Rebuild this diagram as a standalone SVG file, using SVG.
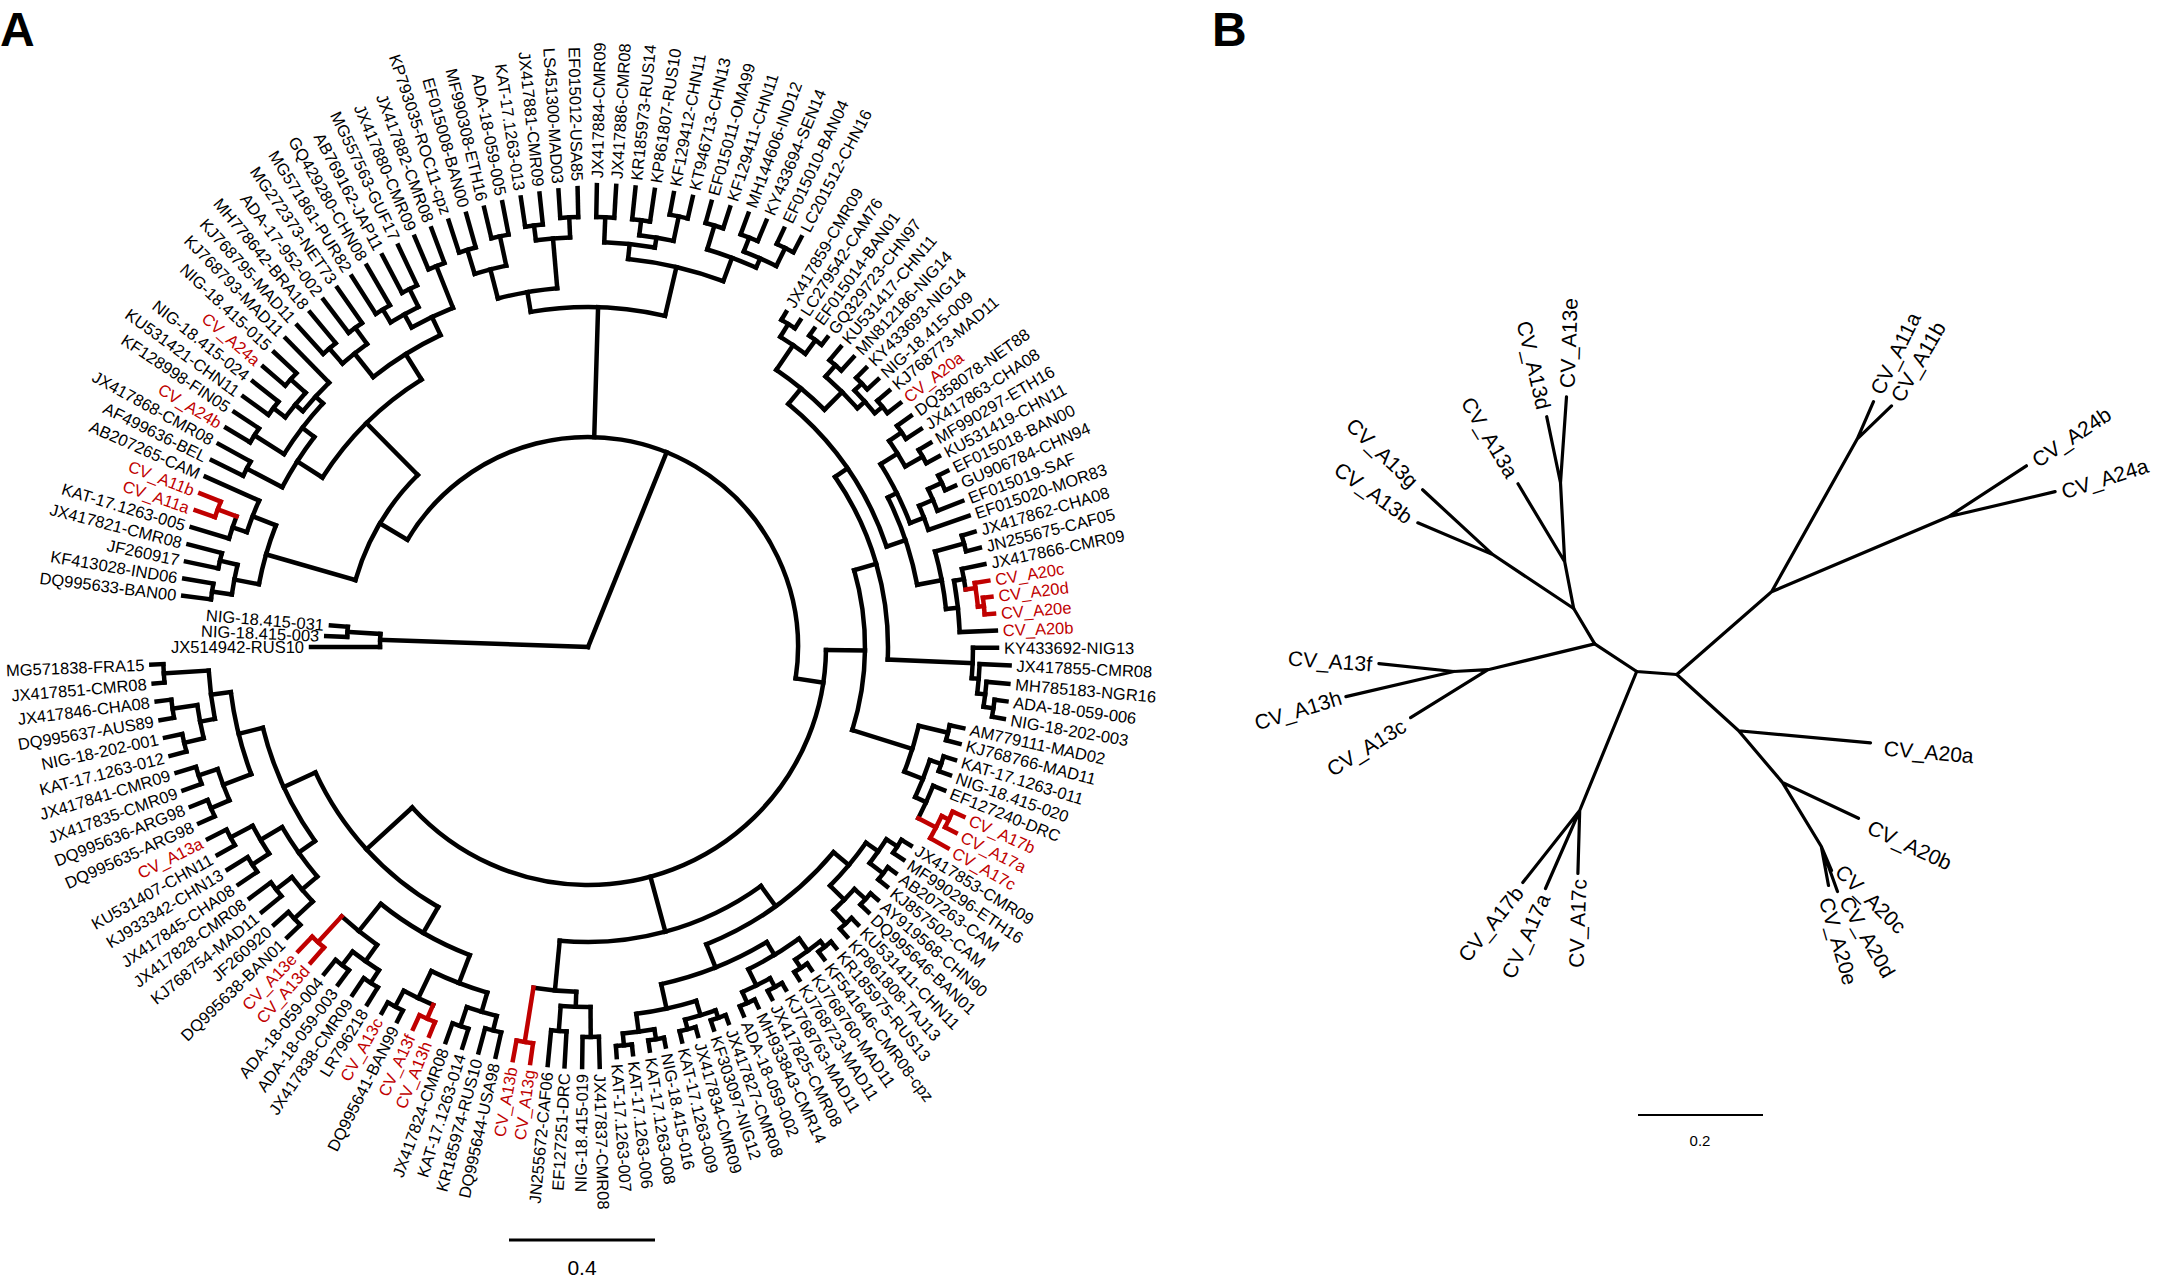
<svg xmlns="http://www.w3.org/2000/svg" width="2161" height="1279" viewBox="0 0 2161 1279">
<style>
.b{fill:none;stroke:#000;stroke-width:4.5;stroke-linecap:square}
.r{stroke:#c00000}
.u{fill:none;stroke:#000;stroke-width:3.2;stroke-linecap:round}
text{font-family:"Liberation Sans",Arial,sans-serif;font-size:16.5px;fill:#000;dominant-baseline:central}
.e{text-anchor:end}
.rt{fill:#c00000}
.bl{font-size:21px}
.pl{font-size:48px;font-weight:bold;dominant-baseline:auto}
</style>
<rect width="2161" height="1279" fill="#fff"/>
<text class="pl" x="0" y="46">A</text>
<text class="pl" x="1212" y="46">B</text>
<g id="treeA-connectors" transform="translate(588,647)">
<path class="b" transform="rotate(182)" d="M0 0H208"/>
<circle class="b" r="208" pathLength="360" stroke-dasharray="3.6 720" transform="rotate(180)"/>
<path class="b" transform="rotate(180)" d="M208 0H277"/>
<path class="b" transform="rotate(183.6)" d="M208 0H241"/>
<circle class="b" r="241" pathLength="360" stroke-dasharray="2.4 720" transform="rotate(182.4)"/>
<path class="b" transform="rotate(182.4)" d="M241 0H262"/>
<path class="b" transform="rotate(184.8)" d="M241 0H258"/>
<path class="b" transform="rotate(292)" d="M0 0H210"/>
<circle class="b" r="210" pathLength="360" stroke-dasharray="157.9 720" transform="rotate(210.7)"/>
<!-- L -->
<path class="b" transform="rotate(210.7)" d="M210 0H242"/>
<circle class="b" r="242" pathLength="360" stroke-dasharray="29.25 720" transform="rotate(196.05)"/>
<path class="b" transform="rotate(196.05)" d="M242 0H335"/>
<circle class="b" r="335" pathLength="360" stroke-dasharray="10.5 720" transform="rotate(190.8)"/>
<path class="b" transform="rotate(190.8)" d="M335 0H360"/>
<circle class="b" r="360" pathLength="360" stroke-dasharray="4.8 720" transform="rotate(188.4)"/>
<path class="b" transform="rotate(188.4)" d="M360 0H380"/>
<circle class="b" r="380" pathLength="360" stroke-dasharray="2.4 720" transform="rotate(187.2)"/>
<path class="b" transform="rotate(187.2)" d="M380 0H408"/>
<path class="b" transform="rotate(189.6)" d="M380 0H409.5"/>
<path class="b" transform="rotate(193.2)" d="M360 0H378"/>
<circle class="b" r="378" pathLength="360" stroke-dasharray="2.4 720" transform="rotate(192)"/>
<path class="b" transform="rotate(192)" d="M378 0H411"/>
<path class="b" transform="rotate(194.4)" d="M378 0H412.5"/>
<path class="b" transform="rotate(201.3)" d="M335 0H360"/>
<circle class="b" r="360" pathLength="360" stroke-dasharray="5.4 720" transform="rotate(198.6)"/>
<path class="b" transform="rotate(198.6)" d="M360 0H375"/>
<circle class="b" r="375" pathLength="360" stroke-dasharray="3.6 720" transform="rotate(196.8)"/>
<path class="b" transform="rotate(196.8)" d="M375 0H414"/>
<path class="b r" transform="rotate(200.4)" d="M375 0H395"/>
<circle class="b r" r="395" pathLength="360" stroke-dasharray="2.4 720" transform="rotate(199.2)"/>
<path class="b r" transform="rotate(199.2)" d="M395 0H415.5"/>
<path class="b r" transform="rotate(201.6)" d="M395 0H417"/>
<path class="b" transform="rotate(204)" d="M360 0H418.5"/>
<path class="b" transform="rotate(225.3)" d="M242 0H315"/>
<circle class="b" r="315" pathLength="360" stroke-dasharray="25.55 720" transform="rotate(212.55)"/>
<path class="b" transform="rotate(212.55)" d="M315 0H345"/>
<circle class="b" r="345" pathLength="360" stroke-dasharray="9.9 720" transform="rotate(207.6)"/>
<path class="b" transform="rotate(207.6)" d="M345 0H385"/>
<circle class="b" r="385" pathLength="360" stroke-dasharray="2.4 720" transform="rotate(206.4)"/>
<path class="b" transform="rotate(206.4)" d="M385 0H420"/>
<path class="b" transform="rotate(208.8)" d="M385 0H421.5"/>
<path class="b" transform="rotate(217.5)" d="M345 0H360"/>
<circle class="b" r="360" pathLength="360" stroke-dasharray="10.2 720" transform="rotate(212.4)"/>
<path class="b" transform="rotate(212.4)" d="M360 0H395"/>
<circle class="b" r="395" pathLength="360" stroke-dasharray="2.4 720" transform="rotate(211.2)"/>
<path class="b" transform="rotate(211.2)" d="M395 0H423"/>
<path class="b" transform="rotate(213.6)" d="M395 0H424.5"/>
<path class="b" transform="rotate(222.6)" d="M360 0H370"/>
<circle class="b" r="370" pathLength="360" stroke-dasharray="6 720" transform="rotate(219.6)"/>
<path class="b" transform="rotate(219.6)" d="M370 0H380"/>
<circle class="b" r="380" pathLength="360" stroke-dasharray="4.8 720" transform="rotate(217.2)"/>
<path class="b" transform="rotate(217.2)" d="M380 0H395"/>
<circle class="b" r="395" pathLength="360" stroke-dasharray="2.4 720" transform="rotate(216)"/>
<path class="b" transform="rotate(216)" d="M395 0H426"/>
<path class="b" transform="rotate(218.4)" d="M395 0H427.5"/>
<path class="b" transform="rotate(222)" d="M380 0H400"/>
<circle class="b" r="400" pathLength="360" stroke-dasharray="2.4 720" transform="rotate(220.8)"/>
<path class="b" transform="rotate(220.8)" d="M400 0H429"/>
<path class="b" transform="rotate(223.2)" d="M400 0H430.5"/>
<path class="b" transform="rotate(225.6)" d="M370 0H432"/>
<path class="b" transform="rotate(238.1)" d="M315 0H345"/>
<circle class="b" r="345" pathLength="360" stroke-dasharray="13.2 720" transform="rotate(231.5)"/>
<path class="b" transform="rotate(231.5)" d="M345 0H375"/>
<circle class="b" r="375" pathLength="360" stroke-dasharray="4.8 720" transform="rotate(229.1)"/>
<path class="b" transform="rotate(229.1)" d="M375 0H395"/>
<circle class="b" r="395" pathLength="360" stroke-dasharray="2.4 720" transform="rotate(227.9)"/>
<path class="b" transform="rotate(227.9)" d="M395 0H433.5"/>
<path class="b" transform="rotate(230.3)" d="M395 0H435"/>
<path class="b" transform="rotate(233.9)" d="M375 0H395"/>
<circle class="b" r="395" pathLength="360" stroke-dasharray="2.4 720" transform="rotate(232.7)"/>
<path class="b" transform="rotate(232.7)" d="M395 0H436.5"/>
<path class="b" transform="rotate(235.1)" d="M395 0H438"/>
<path class="b" transform="rotate(244.7)" d="M345 0H365"/>
<circle class="b" r="365" pathLength="360" stroke-dasharray="7.2 720" transform="rotate(241.1)"/>
<path class="b" transform="rotate(241.1)" d="M365 0H380"/>
<circle class="b" r="380" pathLength="360" stroke-dasharray="4.8 720" transform="rotate(238.7)"/>
<path class="b" transform="rotate(238.7)" d="M380 0H395"/>
<circle class="b" r="395" pathLength="360" stroke-dasharray="2.4 720" transform="rotate(237.5)"/>
<path class="b" transform="rotate(237.5)" d="M395 0H439.5"/>
<path class="b" transform="rotate(239.9)" d="M395 0H441"/>
<path class="b" transform="rotate(243.5)" d="M380 0H400"/>
<circle class="b" r="400" pathLength="360" stroke-dasharray="2.4 720" transform="rotate(242.3)"/>
<path class="b" transform="rotate(242.3)" d="M400 0H442.5"/>
<path class="b" transform="rotate(244.7)" d="M400 0H444"/>
<path class="b" transform="rotate(248.3)" d="M365 0H410"/>
<circle class="b" r="410" pathLength="360" stroke-dasharray="2.4 720" transform="rotate(247.1)"/>
<path class="b" transform="rotate(247.1)" d="M410 0H445.5"/>
<path class="b" transform="rotate(249.5)" d="M410 0H447"/>
<!-- T -->
<path class="b" transform="rotate(271.7)" d="M210 0H340"/>
<circle class="b" r="340" pathLength="360" stroke-dasharray="22.8 720" transform="rotate(260.3)"/>
<path class="b" transform="rotate(260.3)" d="M340 0H360"/>
<circle class="b" r="360" pathLength="360" stroke-dasharray="9.6 720" transform="rotate(255.5)"/>
<path class="b" transform="rotate(255.5)" d="M360 0H390"/>
<circle class="b" r="390" pathLength="360" stroke-dasharray="4.8 720" transform="rotate(253.1)"/>
<path class="b" transform="rotate(253.1)" d="M390 0H415"/>
<circle class="b" r="415" pathLength="360" stroke-dasharray="2.4 720" transform="rotate(251.9)"/>
<path class="b" transform="rotate(251.9)" d="M415 0H448.5"/>
<path class="b" transform="rotate(254.3)" d="M415 0H450"/>
<path class="b" transform="rotate(257.9)" d="M390 0H420"/>
<circle class="b" r="420" pathLength="360" stroke-dasharray="2.4 720" transform="rotate(256.7)"/>
<path class="b" transform="rotate(256.7)" d="M420 0H451.5"/>
<path class="b" transform="rotate(259.1)" d="M420 0H453"/>
<path class="b" transform="rotate(265.1)" d="M360 0H410"/>
<circle class="b" r="410" pathLength="360" stroke-dasharray="4.8 720" transform="rotate(262.7)"/>
<path class="b" transform="rotate(262.7)" d="M410 0H425"/>
<circle class="b" r="425" pathLength="360" stroke-dasharray="2.4 720" transform="rotate(261.5)"/>
<path class="b" transform="rotate(261.5)" d="M425 0H454.5"/>
<path class="b" transform="rotate(263.9)" d="M425 0H456"/>
<path class="b" transform="rotate(267.5)" d="M410 0H430"/>
<circle class="b" r="430" pathLength="360" stroke-dasharray="2.4 720" transform="rotate(266.3)"/>
<path class="b" transform="rotate(266.3)" d="M430 0H457.5"/>
<path class="b" transform="rotate(268.7)" d="M430 0H459"/>
<path class="b" transform="rotate(283.1)" d="M340 0H390"/>
<circle class="b" r="390" pathLength="360" stroke-dasharray="14.4 720" transform="rotate(275.9)"/>
<path class="b" transform="rotate(275.9)" d="M390 0H405"/>
<circle class="b" r="405" pathLength="360" stroke-dasharray="7.2 720" transform="rotate(272.3)"/>
<path class="b" transform="rotate(272.3)" d="M405 0H430"/>
<circle class="b" r="430" pathLength="360" stroke-dasharray="2.4 720" transform="rotate(271.1)"/>
<path class="b" transform="rotate(271.1)" d="M430 0H462"/>
<path class="b" transform="rotate(273.5)" d="M430 0H462"/>
<path class="b" transform="rotate(279.5)" d="M405 0H415"/>
<circle class="b" r="415" pathLength="360" stroke-dasharray="4.8 720" transform="rotate(277.1)"/>
<path class="b" transform="rotate(277.1)" d="M415 0H430"/>
<circle class="b" r="430" pathLength="360" stroke-dasharray="2.4 720" transform="rotate(275.9)"/>
<path class="b" transform="rotate(275.9)" d="M430 0H462"/>
<path class="b" transform="rotate(278.3)" d="M430 0H462"/>
<path class="b" transform="rotate(281.9)" d="M415 0H440"/>
<circle class="b" r="440" pathLength="360" stroke-dasharray="2.4 720" transform="rotate(280.7)"/>
<path class="b" transform="rotate(280.7)" d="M440 0H462"/>
<path class="b" transform="rotate(283.1)" d="M440 0H462"/>
<path class="b" transform="rotate(290.3)" d="M390 0H415"/>
<circle class="b" r="415" pathLength="360" stroke-dasharray="7.2 720" transform="rotate(286.7)"/>
<path class="b" transform="rotate(286.7)" d="M415 0H440"/>
<circle class="b" r="440" pathLength="360" stroke-dasharray="2.4 720" transform="rotate(285.5)"/>
<path class="b" transform="rotate(285.5)" d="M440 0H462"/>
<path class="b" transform="rotate(287.9)" d="M440 0H462"/>
<path class="b" transform="rotate(293.9)" d="M415 0H425"/>
<circle class="b" r="425" pathLength="360" stroke-dasharray="4.8 720" transform="rotate(291.5)"/>
<path class="b" transform="rotate(291.5)" d="M425 0H440"/>
<circle class="b" r="440" pathLength="360" stroke-dasharray="2.4 720" transform="rotate(290.3)"/>
<path class="b" transform="rotate(290.3)" d="M440 0H462"/>
<path class="b" transform="rotate(292.7)" d="M440 0H462"/>
<path class="b" transform="rotate(296.3)" d="M425 0H445"/>
<circle class="b" r="445" pathLength="360" stroke-dasharray="2.4 720" transform="rotate(295.1)"/>
<path class="b" transform="rotate(295.1)" d="M445 0H462"/>
<path class="b" transform="rotate(297.5)" d="M445 0H462"/>
<!-- S -->
<path class="b" transform="rotate(368.6)" d="M210 0H238"/>
<circle class="b" r="238" pathLength="360" stroke-dasharray="136.9 720" transform="rotate(360.7)"/>
<path class="b" transform="rotate(360.7)" d="M238 0H277"/>
<circle class="b" r="277" pathLength="360" stroke-dasharray="33.55 720" transform="rotate(343.9)"/>
<path class="b" transform="rotate(343.9)" d="M277 0H300"/>
<circle class="b" r="300" pathLength="360" stroke-dasharray="36.95 720" transform="rotate(325.45)"/>
<path class="b" transform="rotate(325.45)" d="M300 0H315"/>
<circle class="b" r="315" pathLength="360" stroke-dasharray="31.9 720" transform="rotate(309.5)"/>
<path class="b" transform="rotate(309.5)" d="M315 0H335"/>
<circle class="b" r="335" pathLength="360" stroke-dasharray="10.7 720" transform="rotate(304.2)"/>
<path class="b" transform="rotate(304.2)" d="M335 0H365"/>
<circle class="b" r="365" pathLength="360" stroke-dasharray="4.75 720" transform="rotate(301.8)"/>
<path class="b" transform="rotate(301.8)" d="M365 0H380"/>
<circle class="b" r="380" pathLength="360" stroke-dasharray="2.4 720" transform="rotate(300.6)"/>
<path class="b" transform="rotate(300.6)" d="M380 0H389"/>
<path class="b" transform="rotate(303)" d="M380 0H389.8"/>
<path class="b" transform="rotate(306.55)" d="M365 0H382"/>
<circle class="b" r="382" pathLength="360" stroke-dasharray="2.3 720" transform="rotate(305.4)"/>
<path class="b" transform="rotate(305.4)" d="M382 0H390.6"/>
<path class="b" transform="rotate(307.7)" d="M382 0H391.4"/>
<path class="b" transform="rotate(314.9)" d="M335 0H360"/>
<circle class="b" r="360" pathLength="360" stroke-dasharray="7.15 720" transform="rotate(311.3)"/>
<path class="b" transform="rotate(311.3)" d="M360 0H375"/>
<circle class="b" r="375" pathLength="360" stroke-dasharray="2.4 720" transform="rotate(310.1)"/>
<path class="b" transform="rotate(310.1)" d="M375 0H392.2"/>
<path class="b" transform="rotate(312.5)" d="M375 0H393"/>
<path class="b" transform="rotate(318.45)" d="M360 0H370"/>
<circle class="b" r="370" pathLength="360" stroke-dasharray="4.7 720" transform="rotate(316.1)"/>
<path class="b" transform="rotate(316.1)" d="M370 0H380"/>
<circle class="b" r="380" pathLength="360" stroke-dasharray="2.4 720" transform="rotate(314.9)"/>
<path class="b" transform="rotate(314.9)" d="M380 0H393.8"/>
<path class="b" transform="rotate(317.3)" d="M380 0H394.6"/>
<path class="b" transform="rotate(320.8)" d="M370 0H380"/>
<circle class="b" r="380" pathLength="360" stroke-dasharray="2.4 720" transform="rotate(319.6)"/>
<path class="b" transform="rotate(319.6)" d="M380 0H395.4"/>
<path class="b" transform="rotate(322)" d="M380 0H396.2"/>
<path class="b" transform="rotate(341.4)" d="M315 0H335"/>
<circle class="b" r="335" pathLength="360" stroke-dasharray="15.8 720" transform="rotate(333.5)"/>
<path class="b" transform="rotate(333.5)" d="M335 0H345"/>
<circle class="b" r="345" pathLength="360" stroke-dasharray="10.95 720" transform="rotate(328)"/>
<path class="b" transform="rotate(328)" d="M345 0H365"/>
<circle class="b" r="365" pathLength="360" stroke-dasharray="4.75 720" transform="rotate(325.6)"/>
<path class="b" transform="rotate(325.6)" d="M365 0H380"/>
<circle class="b" r="380" pathLength="360" stroke-dasharray="2.4 720" transform="rotate(324.4)"/>
<path class="b" transform="rotate(324.4)" d="M380 0H397"/>
<path class="b" transform="rotate(326.8)" d="M380 0H397.8"/>
<path class="b" transform="rotate(330.35)" d="M365 0H385"/>
<circle class="b" r="385" pathLength="360" stroke-dasharray="2.3 720" transform="rotate(329.2)"/>
<path class="b" transform="rotate(329.2)" d="M385 0H398.6"/>
<path class="b" transform="rotate(331.5)" d="M385 0H399.4"/>
<path class="b" transform="rotate(338.95)" d="M345 0H360"/>
<circle class="b" r="360" pathLength="360" stroke-dasharray="4.1 720" transform="rotate(336.9)"/>
<path class="b" transform="rotate(336.9)" d="M360 0H375"/>
<circle class="b" r="375" pathLength="360" stroke-dasharray="3.6 720" transform="rotate(335.1)"/>
<path class="b" transform="rotate(335.1)" d="M375 0H390"/>
<circle class="b" r="390" pathLength="360" stroke-dasharray="2.4 720" transform="rotate(333.9)"/>
<path class="b" transform="rotate(333.9)" d="M390 0H400.2"/>
<path class="b" transform="rotate(336.3)" d="M390 0H401"/>
<path class="b" transform="rotate(338.7)" d="M375 0H401.8"/>
<path class="b" transform="rotate(341)" d="M360 0H402.6"/>
<path class="b" transform="rotate(349.3)" d="M335 0H360"/>
<circle class="b" r="360" pathLength="360" stroke-dasharray="9.35 720" transform="rotate(344.6)"/>
<path class="b" transform="rotate(344.6)" d="M360 0H390"/>
<circle class="b" r="390" pathLength="360" stroke-dasharray="2.4 720" transform="rotate(343.4)"/>
<path class="b" transform="rotate(343.4)" d="M390 0H403.4"/>
<path class="b" transform="rotate(345.8)" d="M390 0H404.2"/>
<path class="b" transform="rotate(353.95)" d="M360 0H372"/>
<circle class="b" r="372" pathLength="360" stroke-dasharray="7.95 720" transform="rotate(349.75)"/>
<path class="b" transform="rotate(349.75)" d="M372 0H382"/>
<circle class="b" r="382" pathLength="360" stroke-dasharray="3.15 720" transform="rotate(348.2)"/>
<path class="b" transform="rotate(348.2)" d="M382 0H405"/>
<path class="b r" transform="rotate(351.35)" d="M382 0H392"/>
<circle class="b r" r="392" pathLength="360" stroke-dasharray="3.5 720" transform="rotate(350.6)"/>
<path class="b r" transform="rotate(350.6)" d="M392 0H405.8"/>
<path class="b r" transform="rotate(354.1)" d="M392 0H398"/>
<circle class="b r" r="398" pathLength="360" stroke-dasharray="2.4 720" transform="rotate(352.9)"/>
<path class="b r" transform="rotate(352.9)" d="M398 0H406.6"/>
<path class="b r" transform="rotate(355.3)" d="M398 0H407.4"/>
<path class="b" transform="rotate(357.7)" d="M372 0H408.2"/>
<path class="b" transform="rotate(362.4)" d="M300 0H385"/>
<circle class="b" r="385" pathLength="360" stroke-dasharray="4.55 720" transform="rotate(360.1)"/>
<path class="b" transform="rotate(360.1)" d="M385 0H409"/>
<path class="b" transform="rotate(364.65)" d="M385 0H392"/>
<circle class="b" r="392" pathLength="360" stroke-dasharray="4.3 720" transform="rotate(362.5)"/>
<path class="b" transform="rotate(362.5)" d="M392 0H422"/>
<path class="b" transform="rotate(366.8)" d="M392 0H400"/>
<circle class="b" r="400" pathLength="360" stroke-dasharray="3.6 720" transform="rotate(365)"/>
<path class="b" transform="rotate(365)" d="M400 0H422"/>
<path class="b" transform="rotate(368.6)" d="M400 0H410"/>
<circle class="b" r="410" pathLength="360" stroke-dasharray="2.4 720" transform="rotate(367.4)"/>
<path class="b" transform="rotate(367.4)" d="M410 0H422"/>
<path class="b" transform="rotate(369.8)" d="M410 0H422"/>
<path class="b" transform="rotate(377.45)" d="M277 0H340"/>
<circle class="b" r="340" pathLength="360" stroke-dasharray="8.1 720" transform="rotate(373.4)"/>
<path class="b" transform="rotate(373.4)" d="M340 0H370"/>
<circle class="b" r="370" pathLength="360" stroke-dasharray="2.4 720" transform="rotate(372.2)"/>
<path class="b" transform="rotate(372.2)" d="M370 0H384"/>
<path class="b" transform="rotate(374.6)" d="M370 0H384"/>
<path class="b" transform="rotate(381.5)" d="M340 0H360"/>
<circle class="b" r="360" pathLength="360" stroke-dasharray="6.35 720" transform="rotate(378.3)"/>
<path class="b" transform="rotate(378.3)" d="M360 0H372"/>
<circle class="b" r="372" pathLength="360" stroke-dasharray="2.4 720" transform="rotate(377.1)"/>
<path class="b" transform="rotate(377.1)" d="M372 0H384"/>
<path class="b" transform="rotate(379.5)" d="M372 0H384"/>
<path class="b" transform="rotate(384.65)" d="M360 0H372"/>
<circle class="b" r="372" pathLength="360" stroke-dasharray="5.5 720" transform="rotate(381.9)"/>
<path class="b" transform="rotate(381.9)" d="M372 0H384"/>
<path class="b r" transform="rotate(387.4)" d="M372 0H392"/>
<circle class="b r" r="392" pathLength="360" stroke-dasharray="3.65 720" transform="rotate(385.55)"/>
<path class="b r" transform="rotate(385.55)" d="M392 0H400"/>
<circle class="b r" r="400" pathLength="360" stroke-dasharray="2.5 720" transform="rotate(384.3)"/>
<path class="b r" transform="rotate(384.3)" d="M400 0H412"/>
<path class="b r" transform="rotate(386.8)" d="M400 0H412"/>
<path class="b r" transform="rotate(389.2)" d="M392 0H412"/>
<!-- BR -->
<path class="b" transform="rotate(434.8)" d="M238 0H295"/>
<circle class="b" r="295" pathLength="360" stroke-dasharray="41.4 720" transform="rotate(414.1)"/>
<path class="b" transform="rotate(414.1)" d="M295 0H320"/>
<circle class="b" r="320" pathLength="360" stroke-dasharray="28.4 720" transform="rotate(399.9)"/>
<path class="b" transform="rotate(399.9)" d="M320 0H340"/>
<circle class="b" r="340" pathLength="360" stroke-dasharray="9.45 720" transform="rotate(395.15)"/>
<path class="b" transform="rotate(395.15)" d="M340 0H355"/>
<circle class="b" r="355" pathLength="360" stroke-dasharray="4.7 720" transform="rotate(392.8)"/>
<path class="b" transform="rotate(392.8)" d="M355 0H368"/>
<circle class="b" r="368" pathLength="360" stroke-dasharray="2.4 720" transform="rotate(391.6)"/>
<path class="b" transform="rotate(391.6)" d="M368 0H379"/>
<path class="b" transform="rotate(394)" d="M368 0H380.4"/>
<path class="b" transform="rotate(397.5)" d="M355 0H372"/>
<circle class="b" r="372" pathLength="360" stroke-dasharray="2.4 720" transform="rotate(396.3)"/>
<path class="b" transform="rotate(396.3)" d="M372 0H381.8"/>
<path class="b" transform="rotate(398.7)" d="M372 0H383.2"/>
<path class="b" transform="rotate(404.6)" d="M340 0H360"/>
<circle class="b" r="360" pathLength="360" stroke-dasharray="4.75 720" transform="rotate(402.25)"/>
<path class="b" transform="rotate(402.25)" d="M360 0H375"/>
<circle class="b" r="375" pathLength="360" stroke-dasharray="2.3 720" transform="rotate(401.1)"/>
<path class="b" transform="rotate(401.1)" d="M375 0H384.6"/>
<path class="b" transform="rotate(403.4)" d="M375 0H386"/>
<path class="b" transform="rotate(407)" d="M360 0H378"/>
<circle class="b" r="378" pathLength="360" stroke-dasharray="2.4 720" transform="rotate(405.8)"/>
<path class="b" transform="rotate(405.8)" d="M378 0H387.4"/>
<path class="b" transform="rotate(408.2)" d="M378 0H388.8"/>
<path class="b" transform="rotate(428.3)" d="M320 0H345"/>
<circle class="b" r="345" pathLength="360" stroke-dasharray="18.95 720" transform="rotate(418.8)"/>
<path class="b" transform="rotate(418.8)" d="M345 0H360"/>
<circle class="b" r="360" pathLength="360" stroke-dasharray="9.45 720" transform="rotate(414.1)"/>
<path class="b" transform="rotate(414.1)" d="M360 0H375"/>
<circle class="b" r="375" pathLength="360" stroke-dasharray="4.75 720" transform="rotate(411.7)"/>
<path class="b" transform="rotate(411.7)" d="M375 0H382"/>
<circle class="b" r="382" pathLength="360" stroke-dasharray="2.4 720" transform="rotate(410.5)"/>
<path class="b" transform="rotate(410.5)" d="M382 0H390.2"/>
<path class="b" transform="rotate(412.9)" d="M382 0H391.6"/>
<path class="b" transform="rotate(416.45)" d="M375 0H385"/>
<circle class="b" r="385" pathLength="360" stroke-dasharray="2.3 720" transform="rotate(415.3)"/>
<path class="b" transform="rotate(415.3)" d="M385 0H393"/>
<path class="b" transform="rotate(417.6)" d="M385 0H394.4"/>
<path class="b" transform="rotate(423.55)" d="M360 0H378"/>
<circle class="b" r="378" pathLength="360" stroke-dasharray="4.7 720" transform="rotate(421.2)"/>
<path class="b" transform="rotate(421.2)" d="M378 0H388"/>
<circle class="b" r="388" pathLength="360" stroke-dasharray="2.4 720" transform="rotate(420)"/>
<path class="b" transform="rotate(420)" d="M388 0H395.8"/>
<path class="b" transform="rotate(422.4)" d="M388 0H397.2"/>
<path class="b" transform="rotate(425.9)" d="M378 0H390"/>
<circle class="b" r="390" pathLength="360" stroke-dasharray="2.4 720" transform="rotate(424.7)"/>
<path class="b" transform="rotate(424.7)" d="M390 0H398.6"/>
<path class="b" transform="rotate(427.1)" d="M390 0H400"/>
<path class="b" transform="rotate(437.75)" d="M345 0H370"/>
<circle class="b" r="370" pathLength="360" stroke-dasharray="9.5 720" transform="rotate(433)"/>
<path class="b" transform="rotate(433)" d="M370 0H385"/>
<circle class="b" r="385" pathLength="360" stroke-dasharray="4.75 720" transform="rotate(430.65)"/>
<path class="b" transform="rotate(430.65)" d="M385 0H393"/>
<circle class="b" r="393" pathLength="360" stroke-dasharray="2.3 720" transform="rotate(429.5)"/>
<path class="b" transform="rotate(429.5)" d="M393 0H401.4"/>
<path class="b" transform="rotate(431.8)" d="M393 0H402.8"/>
<path class="b" transform="rotate(435.4)" d="M385 0H395"/>
<circle class="b" r="395" pathLength="360" stroke-dasharray="2.4 720" transform="rotate(434.2)"/>
<path class="b" transform="rotate(434.2)" d="M395 0H404.2"/>
<path class="b" transform="rotate(436.6)" d="M395 0H405.6"/>
<path class="b" transform="rotate(442.5)" d="M370 0H388"/>
<circle class="b" r="388" pathLength="360" stroke-dasharray="4.7 720" transform="rotate(440.15)"/>
<path class="b" transform="rotate(440.15)" d="M388 0H398"/>
<circle class="b" r="398" pathLength="360" stroke-dasharray="2.3 720" transform="rotate(439)"/>
<path class="b" transform="rotate(439)" d="M398 0H407"/>
<path class="b" transform="rotate(441.3)" d="M398 0H408.4"/>
<path class="b" transform="rotate(444.85)" d="M388 0H400"/>
<circle class="b" r="400" pathLength="360" stroke-dasharray="2.3 720" transform="rotate(443.7)"/>
<path class="b" transform="rotate(443.7)" d="M400 0H409.8"/>
<path class="b" transform="rotate(446)" d="M400 0H411.2"/>
<path class="b" transform="rotate(455.5)" d="M295 0H345"/>
<circle class="b" r="345" pathLength="360" stroke-dasharray="7.15 720" transform="rotate(451.95)"/>
<path class="b" transform="rotate(451.95)" d="M345 0H360"/>
<circle class="b" r="360" pathLength="360" stroke-dasharray="4.75 720" transform="rotate(449.6)"/>
<path class="b" transform="rotate(449.6)" d="M360 0H390"/>
<circle class="b" r="390" pathLength="360" stroke-dasharray="2.4 720" transform="rotate(448.4)"/>
<path class="b" transform="rotate(448.4)" d="M390 0H420"/>
<path class="b" transform="rotate(450.8)" d="M390 0H420"/>
<path class="b" transform="rotate(454.35)" d="M360 0H385"/>
<circle class="b" r="385" pathLength="360" stroke-dasharray="2.3 720" transform="rotate(453.2)"/>
<path class="b" transform="rotate(453.2)" d="M385 0H420"/>
<path class="b" transform="rotate(455.5)" d="M385 0H420"/>
<path class="b r" transform="rotate(459.1)" d="M345 0H400"/>
<circle class="b r" r="400" pathLength="360" stroke-dasharray="2.4 720" transform="rotate(457.9)"/>
<path class="b r" transform="rotate(457.9)" d="M400 0H420"/>
<path class="b r" transform="rotate(460.3)" d="M400 0H420"/>
<!-- BL -->
<path class="b" transform="rotate(497.6)" d="M238 0H300"/>
<circle class="b" r="300" pathLength="360" stroke-dasharray="35.35 720" transform="rotate(479.95)"/>
<path class="b" transform="rotate(479.95)" d="M300 0H330"/>
<circle class="b" r="330" pathLength="360" stroke-dasharray="17.9 720" transform="rotate(471)"/>
<path class="b" transform="rotate(471)" d="M330 0H360"/>
<circle class="b" r="360" pathLength="360" stroke-dasharray="9.55 720" transform="rotate(466.25)"/>
<path class="b" transform="rotate(466.25)" d="M360 0H380"/>
<circle class="b" r="380" pathLength="360" stroke-dasharray="4.7 720" transform="rotate(463.9)"/>
<path class="b" transform="rotate(463.9)" d="M380 0H395"/>
<circle class="b" r="395" pathLength="360" stroke-dasharray="2.4 720" transform="rotate(462.7)"/>
<path class="b" transform="rotate(462.7)" d="M395 0H420"/>
<path class="b" transform="rotate(465.1)" d="M395 0H420"/>
<path class="b" transform="rotate(468.6)" d="M380 0H400"/>
<circle class="b" r="400" pathLength="360" stroke-dasharray="2.4 720" transform="rotate(467.4)"/>
<path class="b" transform="rotate(467.4)" d="M400 0H420"/>
<path class="b" transform="rotate(469.8)" d="M400 0H420"/>
<path class="b" transform="rotate(475.8)" d="M360 0H390"/>
<circle class="b" r="390" pathLength="360" stroke-dasharray="4.8 720" transform="rotate(473.4)"/>
<path class="b r" transform="rotate(473.4)" d="M390 0H405"/>
<circle class="b r" r="405" pathLength="360" stroke-dasharray="2.4 720" transform="rotate(472.2)"/>
<path class="b r" transform="rotate(472.2)" d="M405 0H420"/>
<path class="b r" transform="rotate(474.6)" d="M405 0H420"/>
<path class="b" transform="rotate(478.2)" d="M390 0H408"/>
<circle class="b" r="408" pathLength="360" stroke-dasharray="2.4 720" transform="rotate(477)"/>
<path class="b" transform="rotate(477)" d="M408 0H420"/>
<path class="b" transform="rotate(479.4)" d="M408 0H420"/>
<path class="b" transform="rotate(488.9)" d="M330 0H365"/>
<circle class="b" r="365" pathLength="360" stroke-dasharray="7.15 720" transform="rotate(485.3)"/>
<path class="b" transform="rotate(485.3)" d="M365 0H385"/>
<circle class="b" r="385" pathLength="360" stroke-dasharray="4.8 720" transform="rotate(482.9)"/>
<path class="b" transform="rotate(482.9)" d="M385 0H400"/>
<circle class="b" r="400" pathLength="360" stroke-dasharray="2.4 720" transform="rotate(481.7)"/>
<path class="b" transform="rotate(481.7)" d="M400 0H420"/>
<path class="b" transform="rotate(484.1)" d="M400 0H420"/>
<path class="b" transform="rotate(487.7)" d="M385 0H402"/>
<circle class="b" r="402" pathLength="360" stroke-dasharray="2.4 720" transform="rotate(486.5)"/>
<path class="b" transform="rotate(486.5)" d="M402 0H420"/>
<path class="b" transform="rotate(488.9)" d="M402 0H420"/>
<path class="b r" transform="rotate(492.45)" d="M365 0H400"/>
<circle class="b r" r="400" pathLength="360" stroke-dasharray="2.3 720" transform="rotate(491.3)"/>
<path class="b r" transform="rotate(491.3)" d="M400 0H420"/>
<path class="b r" transform="rotate(493.6)" d="M400 0H420"/>
<path class="b" transform="rotate(515.3)" d="M300 0H335"/>
<circle class="b" r="335" pathLength="360" stroke-dasharray="21.45 720" transform="rotate(504.6)"/>
<path class="b" transform="rotate(504.6)" d="M335 0H355"/>
<circle class="b" r="355" pathLength="360" stroke-dasharray="9.8 720" transform="rotate(499.7)"/>
<path class="b" transform="rotate(499.7)" d="M355 0H375"/>
<circle class="b" r="375" pathLength="360" stroke-dasharray="4.9 720" transform="rotate(497.25)"/>
<path class="b" transform="rotate(497.25)" d="M375 0H400"/>
<circle class="b" r="400" pathLength="360" stroke-dasharray="2.5 720" transform="rotate(496)"/>
<path class="b" transform="rotate(496)" d="M400 0H418"/>
<path class="b" transform="rotate(498.5)" d="M400 0H419.1"/>
<path class="b" transform="rotate(502.15)" d="M375 0H395"/>
<circle class="b" r="395" pathLength="360" stroke-dasharray="2.5 720" transform="rotate(500.9)"/>
<path class="b" transform="rotate(500.9)" d="M395 0H420.2"/>
<path class="b" transform="rotate(503.4)" d="M395 0H421.4"/>
<path class="b" transform="rotate(509.5)" d="M355 0H380"/>
<circle class="b" r="380" pathLength="360" stroke-dasharray="4.9 720" transform="rotate(507.05)"/>
<path class="b" transform="rotate(507.05)" d="M380 0H400"/>
<circle class="b" r="400" pathLength="360" stroke-dasharray="2.5 720" transform="rotate(505.8)"/>
<path class="b" transform="rotate(505.8)" d="M400 0H422.5"/>
<path class="b" transform="rotate(508.3)" d="M400 0H423.6"/>
<path class="b" transform="rotate(511.95)" d="M380 0H405"/>
<circle class="b" r="405" pathLength="360" stroke-dasharray="2.5 720" transform="rotate(510.7)"/>
<path class="b" transform="rotate(510.7)" d="M405 0H424.7"/>
<path class="b" transform="rotate(513.2)" d="M405 0H425.8"/>
<path class="b" transform="rotate(526.05)" d="M335 0H360"/>
<circle class="b" r="360" pathLength="360" stroke-dasharray="13.5 720" transform="rotate(519.3)"/>
<path class="b" transform="rotate(519.3)" d="M360 0H390"/>
<circle class="b" r="390" pathLength="360" stroke-dasharray="4.9 720" transform="rotate(516.85)"/>
<path class="b" transform="rotate(516.85)" d="M390 0H410"/>
<circle class="b" r="410" pathLength="360" stroke-dasharray="2.5 720" transform="rotate(515.6)"/>
<path class="b" transform="rotate(515.6)" d="M410 0H427"/>
<path class="b" transform="rotate(518.1)" d="M410 0H428.1"/>
<path class="b" transform="rotate(521.75)" d="M390 0H410"/>
<circle class="b" r="410" pathLength="360" stroke-dasharray="2.5 720" transform="rotate(520.5)"/>
<path class="b" transform="rotate(520.5)" d="M410 0H429.2"/>
<path class="b" transform="rotate(523)" d="M410 0H430.3"/>
<path class="b" transform="rotate(532.8)" d="M360 0H380"/>
<circle class="b" r="380" pathLength="360" stroke-dasharray="7.35 720" transform="rotate(529.1)"/>
<path class="b" transform="rotate(529.1)" d="M380 0H395"/>
<circle class="b" r="395" pathLength="360" stroke-dasharray="4.9 720" transform="rotate(526.65)"/>
<path class="b" transform="rotate(526.65)" d="M395 0H415"/>
<circle class="b" r="415" pathLength="360" stroke-dasharray="2.5 720" transform="rotate(525.4)"/>
<path class="b" transform="rotate(525.4)" d="M415 0H431.4"/>
<path class="b" transform="rotate(527.9)" d="M415 0H432.6"/>
<path class="b" transform="rotate(531.55)" d="M395 0H420"/>
<circle class="b" r="420" pathLength="360" stroke-dasharray="2.5 720" transform="rotate(530.3)"/>
<path class="b" transform="rotate(530.3)" d="M420 0H433.7"/>
<path class="b" transform="rotate(532.8)" d="M420 0H434.8"/>
<path class="b" transform="rotate(536.45)" d="M380 0H425"/>
<circle class="b" r="425" pathLength="360" stroke-dasharray="2.5 720" transform="rotate(535.2)"/>
<path class="b" transform="rotate(535.2)" d="M425 0H435.9"/>
<path class="b" transform="rotate(537.7)" d="M425 0H437"/>
</g>
<g id="treeA-labels" transform="translate(588,647)">
<text class="e" transform="rotate(187.2) translate(415 0) rotate(180)">DQ995633-BAN00</text>
<text class="e" transform="rotate(189.6) translate(416.5 0) rotate(180)">KF413028-IND06</text>
<text class="e" transform="rotate(192) translate(418 0) rotate(180)">JF260917</text>
<text class="e" transform="rotate(194.4) translate(419.5 0) rotate(180)">JX417821-CMR08</text>
<text class="e" transform="rotate(196.8) translate(421 0) rotate(180)">KAT-17.1263-005</text>
<text class="e rt" transform="rotate(199.2) translate(422.5 0) rotate(180)">CV_A11a</text>
<text class="e rt" transform="rotate(201.6) translate(424 0) rotate(180)">CV_A11b</text>
<text class="e" transform="rotate(204) translate(425.5 0) rotate(180)">AB207265-CAM</text>
<text class="e" transform="rotate(206.4) translate(427 0) rotate(180)">AF499636-BEL</text>
<text class="e" transform="rotate(208.8) translate(428.5 0) rotate(180)">JX417868-CMR08</text>
<text class="e rt" transform="rotate(211.2) translate(430 0) rotate(180)">CV_A24b</text>
<text class="e" transform="rotate(213.6) translate(431.5 0) rotate(180)">KF128998-FIN05</text>
<text class="e" transform="rotate(216) translate(433 0) rotate(180)">KU531421-CHN11</text>
<text class="e" transform="rotate(218.4) translate(434.5 0) rotate(180)">NIG-18.415-024</text>
<text class="e rt" transform="rotate(220.8) translate(436 0) rotate(180)">CV_A24a</text>
<text class="e" transform="rotate(223.2) translate(437.5 0) rotate(180)">NIG-18.415-015</text>
<text class="e" transform="rotate(225.6) translate(439 0) rotate(180)">KJ768793-MAD11</text>
<text class="e" transform="rotate(227.9) translate(440.5 0) rotate(180)">KJ768795-MAD11</text>
<text class="e" transform="rotate(230.3) translate(442 0) rotate(180)">MH778642-BRA18</text>
<text class="e" transform="rotate(232.7) translate(443.5 0) rotate(180)">ADA-17-952-002</text>
<text class="e" transform="rotate(235.1) translate(445 0) rotate(180)">MG272373-NET73</text>
<text class="e" transform="rotate(237.5) translate(446.5 0) rotate(180)">MG571861-PUR82</text>
<text class="e" transform="rotate(239.9) translate(448 0) rotate(180)">GQ429280-CHN08</text>
<text class="e" transform="rotate(242.3) translate(449.5 0) rotate(180)">AB769162-JAP11</text>
<text class="e" transform="rotate(244.7) translate(451 0) rotate(180)">MG557563-GUF17</text>
<text class="e" transform="rotate(247.1) translate(452.5 0) rotate(180)">JX417880-CMR09</text>
<text class="e" transform="rotate(249.5) translate(454 0) rotate(180)">JX417882-CMR08</text>
<text class="e" transform="rotate(251.9) translate(455.5 0) rotate(180)">KP793035-ROC11-cpz</text>
<text class="e" transform="rotate(254.3) translate(457 0) rotate(180)">EF015008-BAN00</text>
<text class="e" transform="rotate(256.7) translate(458.5 0) rotate(180)">MF990308-ETH16</text>
<text class="e" transform="rotate(259.1) translate(460 0) rotate(180)">ADA-18-059-005</text>
<text class="e" transform="rotate(261.5) translate(461.5 0) rotate(180)">KAT-17.1263-013</text>
<text class="e" transform="rotate(263.9) translate(463 0) rotate(180)">JX417881-CMR09</text>
<text class="e" transform="rotate(266.3) translate(464.5 0) rotate(180)">LS451300-MAD03</text>
<text class="e" transform="rotate(268.7) translate(466 0) rotate(180)">EF015012-USA85</text>
<text transform="rotate(271.1) translate(469 0)">JX417884-CMR09</text>
<text transform="rotate(273.5) translate(469 0)">JX417886-CMR08</text>
<text transform="rotate(275.9) translate(469 0)">KR185973-RUS14</text>
<text transform="rotate(278.3) translate(469 0)">KP861807-RUS10</text>
<text transform="rotate(280.7) translate(469 0)">KF129412-CHN11</text>
<text transform="rotate(283.1) translate(469 0)">KT946713-CHN13</text>
<text transform="rotate(285.5) translate(469 0)">EF015011-OMA99</text>
<text transform="rotate(287.9) translate(469 0)">KF129411-CHN11</text>
<text transform="rotate(290.3) translate(469 0)">MH144606-IND12</text>
<text transform="rotate(292.7) translate(469 0)">KY433694-SEN14</text>
<text transform="rotate(295.1) translate(469 0)">EF015010-BAN04</text>
<text transform="rotate(297.5) translate(469 0)">LC201512-CHN16</text>
<text transform="rotate(300.6) translate(396 0)">JX417859-CMR09</text>
<text transform="rotate(303) translate(396.8 0)">LC279542-CAM76</text>
<text transform="rotate(305.4) translate(397.6 0)">EF015014-BAN01</text>
<text transform="rotate(307.7) translate(398.4 0)">GQ329723-CHN97</text>
<text transform="rotate(310.1) translate(399.2 0)">KU531417-CHN11</text>
<text transform="rotate(312.5) translate(400 0)">MN812186-NIG14</text>
<text transform="rotate(314.9) translate(400.8 0)">KY433693-NIG14</text>
<text transform="rotate(317.3) translate(401.6 0)">NIG-18.415-009</text>
<text transform="rotate(319.6) translate(402.4 0)">KJ768773-MAD11</text>
<text class="rt" transform="rotate(322) translate(403.2 0)">CV_A20a</text>
<text transform="rotate(324.4) translate(404 0)">DQ358078-NET88</text>
<text transform="rotate(326.8) translate(404.8 0)">JX417863-CHA08</text>
<text transform="rotate(329.2) translate(405.6 0)">MF990297-ETH16</text>
<text transform="rotate(331.5) translate(406.4 0)">KU531419-CHN11</text>
<text transform="rotate(333.9) translate(407.2 0)">EF015018-BAN00</text>
<text transform="rotate(336.3) translate(408 0)">GU906784-CHN94</text>
<text transform="rotate(338.7) translate(408.8 0)">EF015019-SAF</text>
<text transform="rotate(341) translate(409.6 0)">EF015020-MOR83</text>
<text transform="rotate(343.4) translate(410.4 0)">JX417862-CHA08</text>
<text transform="rotate(345.8) translate(411.2 0)">JN255675-CAF05</text>
<text transform="rotate(348.2) translate(412 0)">JX417866-CMR09</text>
<text class="rt" transform="rotate(350.6) translate(412.8 0)">CV_A20c</text>
<text class="rt" transform="rotate(352.9) translate(413.6 0)">CV_A20d</text>
<text class="rt" transform="rotate(355.3) translate(414.4 0)">CV_A20e</text>
<text class="rt" transform="rotate(357.7) translate(415.2 0)">CV_A20b</text>
<text transform="rotate(360.1) translate(416 0)">KY433692-NIG13</text>
<text transform="rotate(362.5) translate(429 0)">JX417855-CMR08</text>
<text transform="rotate(365) translate(429 0)">MH785183-NGR16</text>
<text transform="rotate(367.4) translate(429 0)">ADA-18-059-006</text>
<text transform="rotate(369.8) translate(429 0)">NIG-18-202-003</text>
<text transform="rotate(372.2) translate(391 0)">AM779111-MAD02</text>
<text transform="rotate(374.6) translate(391 0)">KJ768766-MAD11</text>
<text transform="rotate(377.1) translate(391 0)">KAT-17.1263-011</text>
<text transform="rotate(379.5) translate(391 0)">NIG-18.415-020</text>
<text transform="rotate(381.9) translate(391 0)">EF127240-DRC</text>
<text class="rt" transform="rotate(384.3) translate(419 0)">CV_A17b</text>
<text class="rt" transform="rotate(386.8) translate(419 0)">CV_A17a</text>
<text class="rt" transform="rotate(389.2) translate(419 0)">CV_A17c</text>
<text transform="rotate(391.6) translate(386 0)">JX417853-CMR09</text>
<text transform="rotate(394) translate(387.4 0)">MF990296-ETH16</text>
<text transform="rotate(396.3) translate(388.8 0)">AB207263-CAM</text>
<text transform="rotate(398.7) translate(390.2 0)">KJ857502-CAM</text>
<text transform="rotate(401.1) translate(391.6 0)">AY919568-CHN90</text>
<text transform="rotate(403.4) translate(393 0)">DQ995646-BAN01</text>
<text transform="rotate(405.8) translate(394.4 0)">KU531411-CHN11</text>
<text transform="rotate(408.2) translate(395.8 0)">KP861808-TAJ13</text>
<text transform="rotate(410.5) translate(397.2 0)">KR185975-RUS13</text>
<text transform="rotate(412.9) translate(398.6 0)">KF541646-CMR08-cpz</text>
<text transform="rotate(415.3) translate(400 0)">KJ768760-MAD11</text>
<text transform="rotate(417.6) translate(401.4 0)">KJ768723-MAD11</text>
<text transform="rotate(420) translate(402.8 0)">KJ768763-MAD11</text>
<text transform="rotate(422.4) translate(404.2 0)">JX417825-CMR08</text>
<text transform="rotate(424.7) translate(405.6 0)">MH933843-CMR14</text>
<text transform="rotate(427.1) translate(407 0)">ADA-18-059-002</text>
<text transform="rotate(429.5) translate(408.4 0)">JX417827-CMR08</text>
<text transform="rotate(431.8) translate(409.8 0)">KF303097-NIG12</text>
<text transform="rotate(434.2) translate(411.2 0)">JX417834-CMR09</text>
<text transform="rotate(436.6) translate(412.6 0)">KAT-17.1263-009</text>
<text transform="rotate(439) translate(414 0)">NIG-18.415-016</text>
<text transform="rotate(441.3) translate(415.4 0)">KAT-17.1263-008</text>
<text transform="rotate(443.7) translate(416.8 0)">KAT-17.1263-006</text>
<text transform="rotate(446) translate(418.2 0)">KAT-17.1263-007</text>
<text transform="rotate(448.4) translate(427 0)">JX417837-CMR08</text>
<text class="e" transform="rotate(450.8) translate(427 0) rotate(180)">NIG-18.415-019</text>
<text class="e" transform="rotate(453.2) translate(427 0) rotate(180)">EF127251-DRC</text>
<text class="e" transform="rotate(455.5) translate(427 0) rotate(180)">JN255672-CAF06</text>
<text class="e rt" transform="rotate(457.9) translate(427 0) rotate(180)">CV_A13g</text>
<text class="e rt" transform="rotate(460.3) translate(427 0) rotate(180)">CV_A13b</text>
<text class="e" transform="rotate(462.7) translate(427 0) rotate(180)">DQ995644-USA98</text>
<text class="e" transform="rotate(465.1) translate(427 0) rotate(180)">KR185974-RUS10</text>
<text class="e" transform="rotate(467.4) translate(427 0) rotate(180)">KAT-17.1263-014</text>
<text class="e" transform="rotate(469.8) translate(427 0) rotate(180)">JX417824-CMR08</text>
<text class="e rt" transform="rotate(472.2) translate(427 0) rotate(180)">CV_A13h</text>
<text class="e rt" transform="rotate(474.6) translate(427 0) rotate(180)">CV_A13f</text>
<text class="e" transform="rotate(477) translate(427 0) rotate(180)">DQ995641-BAN99</text>
<text class="e rt" transform="rotate(479.4) translate(427 0) rotate(180)">CV_A13c</text>
<text class="e" transform="rotate(481.7) translate(427 0) rotate(180)">LR796218</text>
<text class="e" transform="rotate(484.1) translate(427 0) rotate(180)">JX417838-CMR09</text>
<text class="e" transform="rotate(486.5) translate(427 0) rotate(180)">ADA-18-059-003</text>
<text class="e" transform="rotate(488.9) translate(427 0) rotate(180)">ADA-18-059-004</text>
<text class="e rt" transform="rotate(491.3) translate(427 0) rotate(180)">CV_A13d</text>
<text class="e rt" transform="rotate(493.6) translate(427 0) rotate(180)">CV_A13e</text>
<text class="e" transform="rotate(496) translate(425 0) rotate(180)">DQ995638-BAN01</text>
<text class="e" transform="rotate(498.5) translate(426.1 0) rotate(180)">JF260920</text>
<text class="e" transform="rotate(500.9) translate(427.2 0) rotate(180)">KJ768754-MAD11</text>
<text class="e" transform="rotate(503.4) translate(428.4 0) rotate(180)">JX417828-CMR08</text>
<text class="e" transform="rotate(505.8) translate(429.5 0) rotate(180)">JX417845-CHA08</text>
<text class="e" transform="rotate(508.3) translate(430.6 0) rotate(180)">KJ933342-CHN13</text>
<text class="e" transform="rotate(510.7) translate(431.7 0) rotate(180)">KU531407-CHN11</text>
<text class="e rt" transform="rotate(513.2) translate(432.8 0) rotate(180)">CV_A13a</text>
<text class="e" transform="rotate(515.6) translate(434 0) rotate(180)">DQ995635-ARG98</text>
<text class="e" transform="rotate(518.1) translate(435.1 0) rotate(180)">DQ995636-ARG98</text>
<text class="e" transform="rotate(520.5) translate(436.2 0) rotate(180)">JX417835-CMR09</text>
<text class="e" transform="rotate(523) translate(437.3 0) rotate(180)">JX417841-CMR09</text>
<text class="e" transform="rotate(525.4) translate(438.4 0) rotate(180)">KAT-17.1263-012</text>
<text class="e" transform="rotate(527.9) translate(439.6 0) rotate(180)">NIG-18-202-001</text>
<text class="e" transform="rotate(530.3) translate(440.7 0) rotate(180)">DQ995637-AUS89</text>
<text class="e" transform="rotate(532.8) translate(441.8 0) rotate(180)">JX417846-CHA08</text>
<text class="e" transform="rotate(535.2) translate(442.9 0) rotate(180)">JX417851-CMR08</text>
<text class="e" transform="rotate(537.7) translate(444 0) rotate(180)">MG571838-FRA15</text>
<text class="e" transform="rotate(540) translate(284 0) rotate(180)">JX514942-RUS10</text>
<text class="e" transform="rotate(542.4) translate(269 0) rotate(180)">NIG-18.415-003</text>
<text class="e" transform="rotate(544.8) translate(265 0) rotate(180)">NIG-18.415-031</text>
</g>
<g id="scaleA">
<path class="b" style="stroke-width:3;stroke-linecap:butt" d="M509 1240H655"/>
<text class="bl" x="582" y="1267" text-anchor="middle">0.4</text>
</g>
<g id="treeB-connectors">
<path class="u" d="M1594.7 643.9L1636.7 671.5L1676.8 674.5"/>
<path class="u" d="M1594.7 643.9L1573.7 608.5L1564.7 561.8L1560.5 482.6L1546.7 416.7M1560.5 482.6L1566.5 396.9M1564.7 561.8L1518 483.8"/>
<path class="u" d="M1573.7 608.5L1492.8 554.6L1422.6 489.8M1492.8 554.6L1417.8 522.8"/>
<path class="u" d="M1594.7 643.9L1488 669.7L1453.8 671.5L1378.9 663.7M1453.8 671.5L1345.9 696.6M1488 669.7L1410.6 717.6"/>
<path class="u" d="M1636.7 671.5L1579.7 810.5L1522.8 882.5M1579.7 810.5L1545.5 888.5M1579.7 810.5L1577.9 873.5"/>
<path class="u" d="M1676.8 674.5L1738.6 730.8L1870.5 742.8M1738.6 730.8L1782.4 782.4L1858.5 818.3M1782.4 782.4L1821.3 846.5L1831.5 870.5M1821.3 846.5L1837.5 891.5M1821.3 846.5L1828.5 885.5"/>
<path class="u" d="M1676.8 674.5L1771.6 591.7L1857.3 438.8L1873.5 401.7M1857.3 438.8L1891.5 405.9M1771.6 591.7L1948.4 516.8L2026.4 465.8M1948.4 516.8L2055.1 491.6"/>
</g>
<g id="treeB-labels" style="font-size:21px">
<text style="font-size:21px" transform="translate(1884 748) rotate(5)">CV_A20a</text>
<text style="font-size:21px" transform="translate(1869 826) rotate(25)">CV_A20b</text>
<text style="font-size:21px" transform="translate(1839 868) rotate(44)">CV_A20c</text>
<text style="font-size:21px" transform="translate(1845 898) rotate(60)">CV_A20d</text>
<text style="font-size:21px" transform="translate(1826 898) rotate(74)">CV_A20e</text>
<text class="e" style="font-size:21px" transform="translate(1579 879) rotate(-88)">CV_A17c</text>
<text class="e" style="font-size:21px" transform="translate(1544 895) rotate(-66)">CV_A17a</text>
<text class="e" style="font-size:21px" transform="translate(1519 889) rotate(-51)">CV_A17b</text>
<text class="e" style="font-size:21px" transform="translate(1404 724) rotate(-32)">CV_A13c</text>
<text class="e" style="font-size:21px" transform="translate(1341 697) rotate(-17)">CV_A13h</text>
<text class="e" style="font-size:21px" transform="translate(1372 664) rotate(4)">CV_A13f</text>
<text class="e" style="font-size:21px" transform="translate(1410 519) rotate(35.5)">CV_A13b</text>
<text class="e" style="font-size:21px" transform="translate(1415 484) rotate(43.7)">CV_A13g</text>
<text class="e" style="font-size:21px" transform="translate(1513 476) rotate(59)">CV_A13a</text>
<text class="e" style="font-size:21px" transform="translate(1544 409) rotate(77)">CV_A13d</text>
<text style="font-size:21px" transform="translate(1567 388) rotate(-88)">CV_A13e</text>
<text style="font-size:21px" transform="translate(1876 393) rotate(-64)">CV_A11a</text>
<text style="font-size:21px" transform="translate(1896 400) rotate(-60)">CV_A11b</text>
<text style="font-size:21px" transform="translate(2034 462) rotate(-33.7)">CV_A24b</text>
<text style="font-size:21px" transform="translate(2062 492) rotate(-17.6)">CV_A24a</text>
</g>
<g id="scaleB">
<path class="u" style="stroke-width:2;stroke-linecap:butt" d="M1638 1115H1763"/>
<text style="font-size:15px" x="1700" y="1140" text-anchor="middle">0.2</text>
</g>
</svg>
